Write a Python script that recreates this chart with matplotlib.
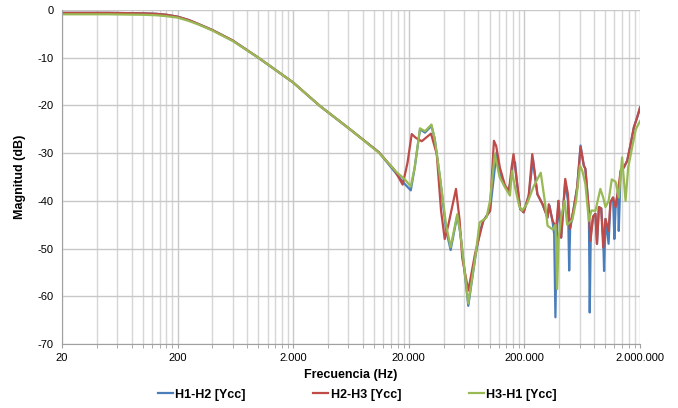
import matplotlib
matplotlib.use('Agg')
import matplotlib.pyplot as plt
from matplotlib.ticker import FixedLocator, NullFormatter

plt.rcParams['font.family'] = ['Liberation Sans', 'DejaVu Sans']
plt.rcParams['axes.unicode_minus'] = False

# Frequency response, Hz / dB
f_low = [20, 50, 100, 130, 160, 200, 250, 300, 400, 600, 1000, 2000, 3400, 6200]
h12_low = [-0.6, -0.6, -0.7, -0.8, -1.0, -1.4, -2.1, -2.9, -4.2, -6.4, -10.0, -15.2, -20.1, -25.0]
h23_low = [-0.6, -0.6, -0.7, -0.8, -1.0, -1.4, -2.1, -2.9, -4.2, -6.4, -10.0, -15.2, -20.1, -25.0]
h31_low = [-0.9, -0.9, -1.0, -1.1, -1.3, -1.6, -2.3, -3.0, -4.3, -6.5, -10.0, -15.2, -20.1, -25.0]

f_h12 = [11000, 15700, 18500, 20800, 22500, 25000, 27600, 31400, 33500, 37200,
         42000, 46000, 52500, 56000, 65400, 75000, 82000, 88200, 100800, 115000,
         122600, 136000, 145000, 152000, 159000, 166000, 172000, 184000, 197000, 218000,
         237000, 259000, 287000, 317000, 330000, 351000, 362000, 371000, 380000, 394000,
         416000, 451000, 476000, 488000, 497000, 533000, 572000, 612000, 653000, 674000,
         722000, 735000, 750000, 786000, 823000, 849000, 882000, 924000, 961000, 978000,
         1006000, 1070000, 1110000, 1170000, 1200000, 1230000, 1290000, 1310000, 1360000, 1450000,
         1550000, 1660000, 1770000, 1890000, 2000000]
h12_high = [-29.8, -34.4, -36.5, -37.8, -33.0, -25.0, -25.7, -24.3, -27.0, -35.1,
            -46.0, -50.3, -43.1, -47.0, -62.0, -52.0, -46.5, -44.2, -42.1, -29.8,
            -34.0, -37.0, -37.9, -36.0, -32.0, -31.9, -36.0, -41.7, -42.4, -38.9,
            -31.3, -38.6, -40.7, -43.5, -41.0, -44.5, -47.0, -64.4, -48.0, -40.0,
            -47.7, -36.0, -40.0, -54.6, -46.0, -41.7, -37.2, -28.4, -32.6, -33.3,
            -42.1, -63.4, -47.0, -43.3, -42.7, -49.0, -41.3, -41.6, -48.0, -54.7,
            -43.8, -49.0, -40.3, -39.3, -48.0, -41.3, -37.9, -46.3, -33.7, -33.0,
            -31.6, -28.1, -24.6, -22.5, -20.6]

f_h23 = [11000, 15000, 17700, 19500, 21200, 23000, 25900, 31100, 34900, 38000,
         40900, 44000, 51200, 55000, 58000, 65400, 75000, 88200, 100800, 109000,
         114000, 122600, 136000, 147000, 155000, 161000, 172000, 184000, 197000, 218000,
         234000, 259000, 287000, 317000, 325000, 351000, 377000, 394000, 416000, 451000,
         476000, 494000, 533000, 572000, 612000, 653000, 674000, 722000, 746000, 786000,
         823000, 849000, 882000, 924000, 961000, 1006000, 1070000, 1110000, 1170000, 1230000,
         1290000, 1360000, 1450000, 1550000, 1660000, 1770000, 1890000, 2000000]
h23_high = [-29.8, -33.5, -36.6, -32.0, -26.0, -26.8, -27.5, -25.9, -30.2, -42.0,
            -48.0, -45.0, -37.5, -44.0, -52.0, -58.8, -51.0, -44.2, -42.1, -27.4,
            -28.5, -33.0, -36.8, -37.9, -33.0, -30.2, -35.8, -41.7, -42.4, -38.9,
            -30.2, -38.6, -40.7, -43.5, -40.7, -44.2, -45.6, -40.0, -47.7, -35.4,
            -38.6, -45.9, -41.7, -37.2, -28.7, -32.6, -33.3, -42.1, -48.4, -43.3,
            -42.7, -49.0, -41.3, -41.6, -49.8, -43.8, -46.3, -40.3, -39.3, -41.3,
            -37.9, -33.7, -33.0, -31.6, -28.1, -24.6, -22.5, -20.4]

f_h31 = [11000, 15700, 18500, 20800, 22500, 25000, 27600, 31400, 33500, 37200,
         42000, 46000, 52500, 56000, 65400, 75000, 82000, 88200, 94000, 100800,
         111000, 122000, 136000, 150000, 156000, 166000, 180000, 190000, 211000, 240000,
         277000, 300000, 317000, 351000, 372000, 384000, 395000, 416000, 446000, 469000,
         520000, 560000, 605000, 634000, 674000, 722000, 760000, 823000, 908000, 961000,
         1006000, 1070000, 1140000, 1230000, 1310000, 1400000, 1500000, 1580000, 1720000, 1840000,
         2000000]
h31_high = [-29.9, -34.0, -35.5, -37.0, -33.0, -24.8, -25.4, -24.0, -27.0, -35.0,
            -45.0, -49.7, -42.8, -47.0, -61.5, -52.0, -44.5, -44.0, -43.5, -40.0,
            -30.2, -35.0, -37.2, -38.9, -33.7, -37.2, -41.0, -42.1, -40.6, -37.0,
            -34.1, -40.0, -45.2, -46.0, -45.0, -58.5, -48.0, -43.3, -40.0, -45.0,
            -44.0, -40.0, -32.6, -33.7, -36.5, -44.2, -42.0, -42.1, -37.5, -39.3,
            -41.3, -40.0, -35.5, -36.0, -39.3, -30.9, -40.0, -33.0, -28.5, -25.0,
            -23.3]

labels = ['H1-H2 [Ycc]', 'H2-H3 [Ycc]', 'H3-H1 [Ycc]']
colors = ['#4A7EBB', '#BE4B48', '#98B954']

fig = plt.figure(figsize=(6.78, 4.08), dpi=100)
ax = fig.add_axes([62 / 678, 1 - 344 / 408, 578 / 678, 334 / 408])

ax.plot(f_low + f_h12, h12_low + h12_high, color=colors[0], lw=1.6, label=labels[0])
ax.plot(f_low + f_h23, h23_low + h23_high, color=colors[1], lw=1.6, label=labels[1])
ax.plot(f_low + f_h31, h31_low + h31_high, color=colors[2], lw=1.6, label=labels[2])

ax.set_xscale('log')
ax.set_xlim(20, 2000000)
ax.set_ylim(-70, 0)

major = [20, 200, 2000, 20000, 200000, 2000000]
minor = [m * d for d in [20, 200, 2000, 20000, 200000] for m in range(2, 10)]
ax.xaxis.set_major_locator(FixedLocator(major))
ax.xaxis.set_minor_locator(FixedLocator(minor))
ax.set_xticklabels(['20', '200', '2.000', '20.000', '200.000', '2.000.000'])
ax.xaxis.set_minor_formatter(NullFormatter())
ax.set_yticks(range(-70, 1, 10))

ax.grid(True, which='major', color='#C8C8C8', lw=1.0)
ax.grid(True, which='minor', axis='x', color='#D6D6D6', lw=1.0)
ax.set_axisbelow(True)
for s in ['top', 'right']:
    ax.spines[s].set_visible(False)
for s in ['left', 'bottom']:
    ax.spines[s].set_color('#A0A0A0')
ax.tick_params(which='both', direction='out', color='#A0A0A0', labelsize=8, length=3)
ax.tick_params(axis='y', length=0, pad=6)

ax.set_xlabel('Frecuencia (Hz)', fontsize=9, fontweight='bold', labelpad=4)
ax.set_ylabel('Magnitud (dB)', fontsize=9, fontweight='bold', labelpad=8)

fig.legend(loc='lower center', bbox_to_anchor=(0.527, -0.01), ncol=3, frameon=False,
           handlelength=1.2, handletextpad=0.2, columnspacing=5.4,
           prop={'weight': 'bold', 'size': 9})

fig.savefig('out.png', dpi=100)
